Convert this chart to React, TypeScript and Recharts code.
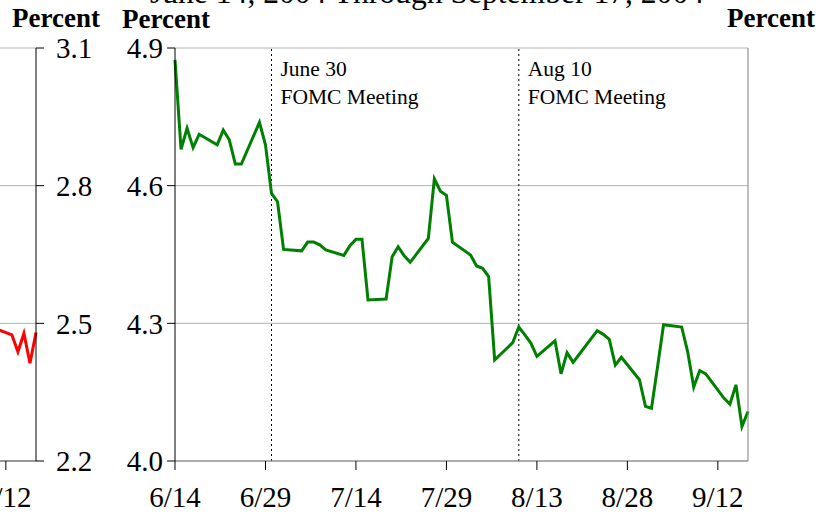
import { LineChart, Line, XAxis, YAxis, CartesianGrid, ReferenceLine } from "recharts";

// daily dates (business days) and yields
const dates = [
  "6/14", "6/15", "6/16", "6/17", "6/18", "6/21", "6/22", "6/23", "6/24", "6/25",
  "6/28", "6/29", "6/30", "7/1", "7/2", "7/5", "7/6", "7/7", "7/8", "7/9",
  "7/12", "7/13", "7/14", "7/15", "7/16", "7/19", "7/20", "7/21", "7/22", "7/23",
  "7/26", "7/27", "7/28", "7/29", "7/30", "8/2", "8/3", "8/4", "8/5", "8/6",
  "8/9", "8/10", "8/11", "8/12", "8/13", "8/16", "8/17", "8/18", "8/19", "8/20",
  "8/23", "8/24", "8/25", "8/26", "8/27", "8/30", "8/31", "9/1", "9/2", "9/3",
  "9/6", "9/7", "9/8", "9/9", "9/10", "9/13", "9/14", "9/15", "9/16", "9/17",
];
const tenYear = [
  4.874, 4.679, 4.725, 4.683, 4.712, 4.689, 4.721, 4.7, 4.647, 4.647,
  4.738, 4.689, 4.583, 4.565, 4.461, 4.458, 4.477, 4.477, 4.471, 4.46,
  4.448, 4.469, 4.483, 4.483, 4.351, 4.353, 4.445, 4.467, 4.447, 4.433,
  4.485, 4.615, 4.588, 4.579, 4.477, 4.449, 4.425, 4.42, 4.402, 4.22,
  4.258, 4.292, 4.275, 4.257, 4.228, 4.262, 4.19, 4.236, 4.215, 4.232,
  4.284, 4.276, 4.265, 4.209, 4.226, 4.177, 4.119, 4.115, 4.205, 4.297,
  4.292, 4.238, 4.161, 4.197, 4.19, 4.137, 4.124, 4.166, 4.075, 4.108,
];

// left panel: only its last few days are in view
const leftDates = ["9/10", "9/13", "9/14", "9/15", "9/16", "9/17"];
const leftValues = [2.49, 2.475, 2.438, 2.478, 2.413, 2.48];

const xTickLabels = ["6/14", "6/29", "7/14", "7/29", "8/13", "8/28", "9/12"];
const rightTicks = [4.0, 4.3, 4.6, 4.9];
const leftTicks = [2.2, 2.5, 2.8, 3.1];

const monthStart: Record<number, number> = { 6: 0, 7: 30, 8: 61, 9: 92 };
const dayOf = (md: string) => {
  const [m, d] = md.split("/").map(Number);
  return monthStart[m] + d - 14;
};
const xTicks = xTickLabels.map(dayOf);
const fmtX = (v: number) => xTickLabels[xTicks.indexOf(v)] ?? "";
const fmtY = (v: number) => v.toFixed(1);

const greenData = dates.map((d, i) => ({ day: dayOf(d), v: tenYear[i] }));
const redData = leftDates.map((d, i) => ({ day: dayOf(d), v: leftValues[i] }));

const FONT = "'Liberation Serif', 'Times New Roman', serif";
const tick = { fill: "#000", fontSize: 29, fontFamily: FONT };

const note = (lines: string[]) => (props: any) => {
  const { x, y } = props.viewBox;
  return (
    <text x={x + 9} y={y + 28} fontSize={21.5} fontFamily={FONT} fill="#000">
      {lines.map((l, i) => (
        <tspan key={i} x={x + 9} dy={i === 0 ? 0 : 28}>
          {l}
        </tspan>
      ))}
    </text>
  );
};

const margin = { top: 48, right: 22, bottom: 14, left: 115 };

export default function App() {
  return (
    <div style={{ position: "fixed", left: 0, top: 0, width: 830, height: 515, overflow: "hidden", background: "#fff" }}>
      {/* left panel, shifted so only its right edge shows */}
      <div style={{ position: "absolute", left: -712, top: 0 }}>
        <LineChart width={830} height={515} data={redData} margin={{ ...margin, left: 175 }}>
          <CartesianGrid vertical={false} stroke="#b3b3b3" yAxisId="r" />
          <XAxis
            dataKey="day"
            type="number"
            domain={[0, 95]}
            ticks={xTicks}
            tickFormatter={fmtX}
            height={40}
            tick={tick}
            tickSize={9}
            tickMargin={16}
            axisLine={{ stroke: "#555" }}
            tickLine={{ stroke: "#000" }}
          />
          <YAxis
            yAxisId="r"
            orientation="right"
            width={60}
            domain={[2.2, 3.1]}
            ticks={leftTicks}
            tickFormatter={fmtY}
            tick={tick}
            tickSize={8}
            tickMargin={12}
            axisLine={{ stroke: "#000" }}
            tickLine={{ stroke: "#000" }}
          />
          <Line yAxisId="r" dataKey="v" stroke="#ff0000" strokeWidth={3} dot={false} isAnimationActive={false} />
        </LineChart>
      </div>

      <div style={{ position: "absolute", left: 0, top: 0 }}>
        <LineChart width={830} height={515} data={greenData} margin={margin}>
          <CartesianGrid vertical={false} stroke="#b3b3b3" yAxisId="l" />
          <XAxis
            dataKey="day"
            type="number"
            domain={[0, 95]}
            ticks={xTicks}
            tickFormatter={fmtX}
            height={40}
            tick={tick}
            tickSize={9}
            tickMargin={16}
            axisLine={{ stroke: "#808080" }}
            tickLine={{ stroke: "#000" }}
          />
          <YAxis
            yAxisId="l"
            width={60}
            domain={[4.0, 4.9]}
            ticks={rightTicks}
            tickFormatter={fmtY}
            tick={tick}
            tickSize={8}
            tickMargin={4}
            axisLine={{ stroke: "#000" }}
            tickLine={{ stroke: "#000" }}
          />
          <YAxis
            yAxisId="r"
            orientation="right"
            width={60}
            domain={[4.0, 4.9]}
            ticks={rightTicks}
            tickFormatter={fmtY}
            tick={tick}
            tickSize={8}
            tickMargin={9}
            axisLine={{ stroke: "#808080" }}
            tickLine={{ stroke: "#000" }}
          />
          <ReferenceLine yAxisId="l" x={dayOf("6/30")} stroke="#000" strokeDasharray="2 3" label={note(["June 30", "FOMC Meeting"])} />
          <ReferenceLine yAxisId="l" x={dayOf("8/10")} stroke="#000" strokeDasharray="2 3" label={note(["Aug 10", "FOMC Meeting"])} />
          <Line yAxisId="l" dataKey="v" stroke="#008000" strokeWidth={3} dot={false} isAnimationActive={false} />
        </LineChart>
      </div>

      <svg width={830} height={515} style={{ position: "absolute", left: 0, top: 0, pointerEvents: "none" }}>
        <text x={427} y={3} textAnchor="middle" fontSize={31.6} fontFamily={FONT} fill="#000">
          June 14, 2004 Through September 17, 2004
        </text>
        <text x={56} y={27} textAnchor="middle" fontSize={27} fontWeight="bold" fontFamily={FONT} fill="#000">Percent</text>
        <text x={166} y={28} textAnchor="middle" fontSize={27} fontWeight="bold" fontFamily={FONT} fill="#000">Percent</text>
        <text x={771} y={27} textAnchor="middle" fontSize={27} fontWeight="bold" fontFamily={FONT} fill="#000">Percent</text>
      </svg>
    </div>
  );
}
